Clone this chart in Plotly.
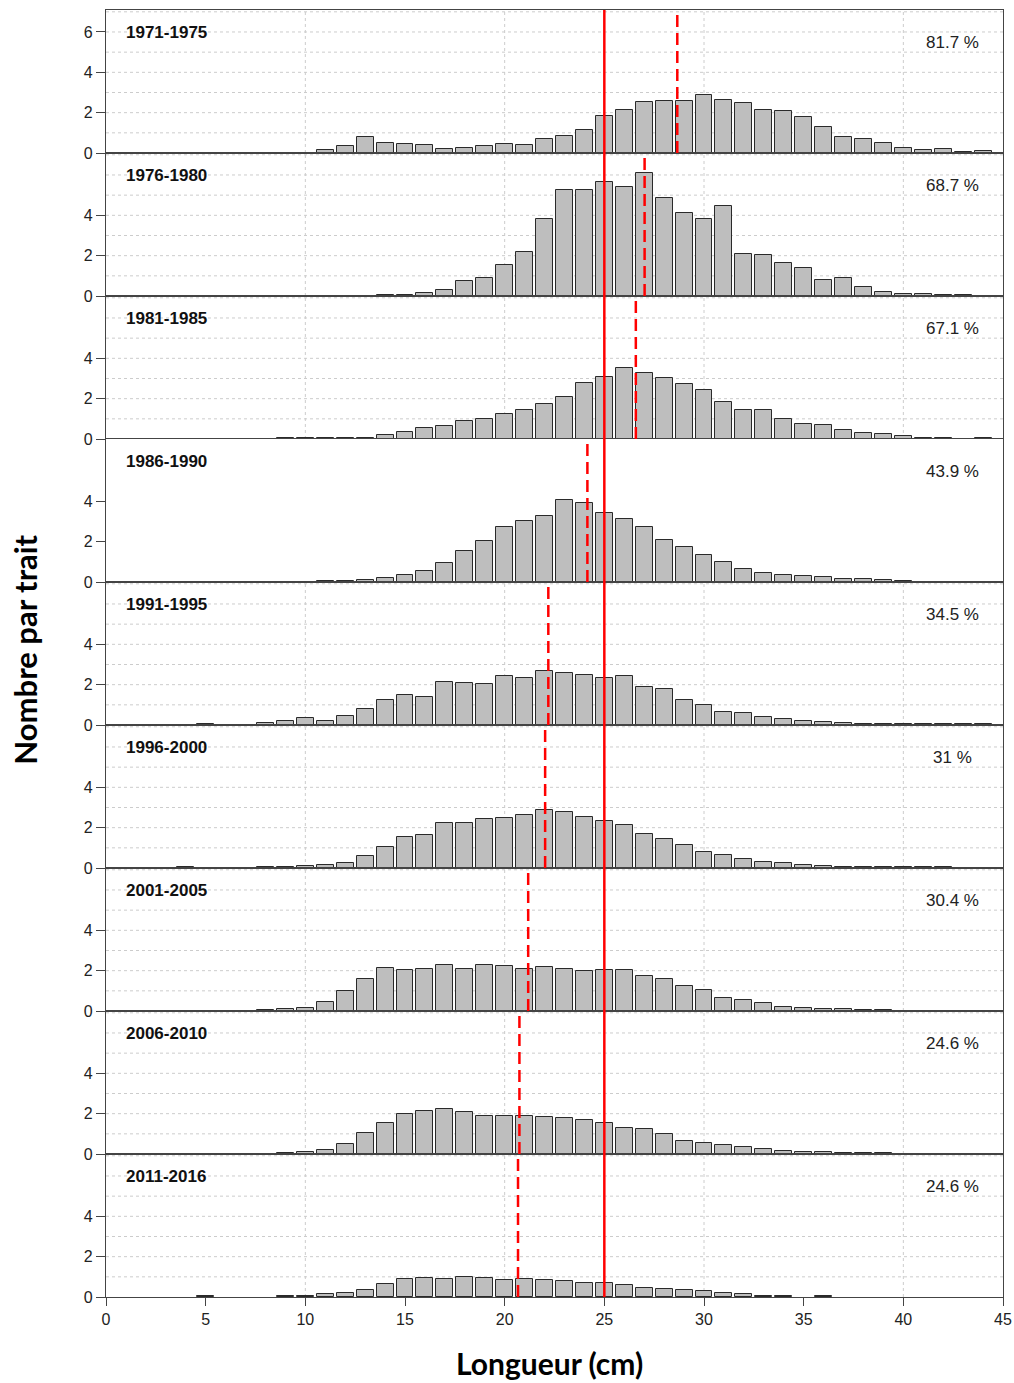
import plotly.graph_objects as go
from plotly.subplots import make_subplots

# ---------------- data ----------------
periods = ["1971-1975", "1976-1980", "1981-1985", "1986-1990", "1991-1995",
           "1996-2000", "2001-2005", "2006-2010", "2011-2016"]

# first length class (cm) of each series, then counts per 1-cm class
start_1971 = 11
counts_1971 = [0.13, 0.36, 0.80, 0.52, 0.43, 0.39, 0.18, 0.25, 0.33, 0.44, 0.41, 0.69, 0.85, 1.15,
               1.84, 2.15, 2.54, 2.57, 2.59, 2.90, 2.62, 2.48, 2.11, 2.07, 1.77, 1.28, 0.79, 0.69,
               0.48, 0.25, 0.16, 0.21, 0.05, 0.08]
start_1976 = 14
counts_1976 = [0.03, 0.07, 0.15, 0.30, 0.76, 0.88, 1.54, 2.18, 3.83, 5.24, 5.27, 5.67, 5.42, 6.10,
               4.88, 4.10, 3.82, 4.46, 2.10, 2.05, 1.65, 1.40, 0.79, 0.89, 0.43, 0.21, 0.12, 0.08,
               0.07, 0.03]
start_1981 = 9
counts_1981 = [0.03, 0.03, 0.03, 0.03, 0.03, 0.18, 0.36, 0.53, 0.63, 0.91, 0.98, 1.22, 1.42, 1.75,
               2.07, 2.78, 3.06, 3.50, 3.27, 3.00, 2.71, 2.43, 1.85, 1.44, 1.45, 0.99, 0.74, 0.71,
               0.43, 0.30, 0.23, 0.13, 0.07, 0.05, None, 0.03]
start_1986 = 11
counts_1986 = [0.03, 0.07, 0.10, 0.20, 0.36, 0.56, 0.93, 1.54, 2.05, 2.71, 3.00, 3.26, 4.07, 3.90,
               3.42, 3.12, 2.73, 2.10, 1.75, 1.36, 1.01, 0.66, 0.46, 0.36, 0.28, 0.23, 0.17, 0.15,
               0.10, 0.05]
start_1991 = 5
counts_1991 = [0.03, None, None, 0.08, 0.20, 0.33, 0.18, 0.46, 0.78, 1.22, 1.50, 1.37, 2.12, 2.08,
               2.03, 2.45, 2.31, 2.66, 2.60, 2.50, 2.33, 2.45, 1.88, 1.77, 1.26, 1.01, 0.66, 0.60,
               0.38, 0.28, 0.21, 0.13, 0.10, 0.07, 0.05, 0.03, 0.03, 0.03, 0.03, 0.03]
start_1996 = 4
counts_1996 = [0.03, None, None, None, 0.03, 0.07, 0.10, 0.15, 0.23, 0.60, 1.06, 1.52, 1.65, 2.23,
               2.23, 2.43, 2.48, 2.61, 2.89, 2.79, 2.53, 2.35, 2.15, 1.70, 1.44, 1.12, 0.81, 0.64,
               0.45, 0.28, 0.26, 0.13, 0.10, 0.07, 0.05, 0.03, 0.03, 0.03, 0.03]
start_2001 = 8
counts_2001 = [0.03, 0.10, 0.17, 0.45, 1.01, 1.57, 2.13, 2.02, 2.10, 2.28, 2.10, 2.28, 2.25, 2.10,
               2.20, 2.08, 2.00, 2.02, 2.02, 1.74, 1.60, 1.26, 1.04, 0.63, 0.55, 0.41, 0.20, 0.17,
               0.12, 0.08, 0.07, 0.05]
start_2006 = 9
counts_2006 = [0.05, 0.10, 0.20, 0.48, 1.02, 1.52, 1.97, 2.13, 2.23, 2.10, 1.87, 1.90, 1.87, 1.82,
               1.80, 1.67, 1.52, 1.29, 1.24, 0.98, 0.64, 0.53, 0.46, 0.36, 0.23, 0.15, 0.12, 0.08,
               0.07, 0.05, 0.03]
start_2011 = 5
counts_2011 = [0.03, None, None, None, 0.03, 0.05, 0.17, 0.21, 0.36, 0.66, 0.88, 0.94, 0.88, 0.98,
               0.94, 0.84, 0.88, 0.84, 0.78, 0.71, 0.68, 0.61, 0.46, 0.41, 0.36, 0.28, 0.20, 0.13,
               0.07, 0.05, None, 0.03]

starts = [start_1971, start_1976, start_1981, start_1986, start_1991,
          start_1996, start_2001, start_2006, start_2011]
counts = [counts_1971, counts_1976, counts_1981, counts_1986, counts_1991,
          counts_1996, counts_2001, counts_2006, counts_2011]

mean_lengths = [28.66, 27.02, 26.58, 24.15, 22.19, 22.03, 21.18, 20.74, 20.67]
percents = ["81.7 %", "68.7 %", "67.1 %", "43.9 %", "34.5 %", "31 %", "30.4 %", "24.6 %", "24.6 %"]
ref_length = 25

x_ticks = [0, 5, 10, 15, 20, 25, 30, 35, 40, 45]
x_grid = [10, 20, 30, 40]
y_ticks_top = [0, 2, 4, 6]
y_ticks = [0, 2, 4]
y_grid = [1, 2, 3, 4, 5, 6, 7]

# ---------------- figure ----------------
n = len(periods)
fig = make_subplots(rows=n, cols=1, shared_xaxes=True, vertical_spacing=0)

FONT = "Liberation Sans, Arial, sans-serif"
TITLE_FONT = "Lato, Open Sans, sans-serif"
FRAME = "#444444"
GRID = "#cccccc"

for i in range(n):
    xs = list(range(starts[i], starts[i] + len(counts[i])))
    fig.add_trace(go.Bar(x=xs, y=counts[i], width=0.85,
                         marker=dict(color="#BEBEBE", line=dict(color="#2a2a2a", width=1)),
                         showlegend=False), row=i + 1, col=1)

for i in range(n):
    r = i + 1
    fig.update_yaxes(row=r, col=1, range=[0, 7.09], automargin=False,
                     tickvals=y_ticks_top if i == 0 else y_ticks,
                     ticks="outside", ticklen=9, tickcolor=FRAME, tickwidth=1,
                     tickfont=dict(family=FONT, size=16, color="#222"),
                     showgrid=False, zeroline=False,
                     showline=True, mirror=True, linecolor=FRAME, linewidth=1.3)
    last = (r == n)
    fig.update_xaxes(row=r, col=1, range=[0, 45], automargin=False,
                     tickvals=x_ticks,
                     ticks="outside" if last else "", ticklen=8, tickcolor=FRAME,
                     showticklabels=last,
                     tickfont=dict(family=FONT, size=16, color="#222"),
                     showgrid=False, zeroline=False,
                     showline=True, mirror=True, linecolor=FRAME, linewidth=1.3)

# dotted grid lines (below the bars)
for i in range(n):
    xr = "x" if i == 0 else f"x{i + 1}"
    yr = "y" if i == 0 else f"y{i + 1}"
    for gx in x_grid:
        fig.add_shape(type="line", xref=xr, yref=f"{yr} domain", x0=gx, x1=gx, y0=0, y1=1,
                      layer="below", line=dict(color=GRID, width=1, dash="dot"))
    for gy in y_grid:
        fig.add_shape(type="line", xref=f"{xr} domain", yref=yr, x0=0, x1=1, y0=gy, y1=gy,
                      layer="below", line=dict(color=GRID, width=1, dash="dot"))

# reference length (solid red line across all panels)
fig.add_shape(type="line", xref="x", yref="paper", x0=ref_length, x1=ref_length, y0=0, y1=1,
              line=dict(color="#FF0000", width=2.5))

for i in range(n):
    xr = "x" if i == 0 else f"x{i + 1}"
    yr = "y" if i == 0 else f"y{i + 1}"
    fig.add_shape(type="line", xref=xr, yref=f"{yr} domain",
                  x0=mean_lengths[i], x1=mean_lengths[i], y0=0, y1=1,
                  line=dict(color="#FF0000", width=2.5, dash="12px,6px"))
    fig.add_annotation(xref=f"{xr} domain", yref=f"{yr} domain", x=0.02, y=0.84,
                       xanchor="left", yanchor="middle", showarrow=False,
                       text=f"<b>{periods[i]}</b>",
                       font=dict(family=FONT, size=17, color="#111"))
    fig.add_annotation(xref=f"{xr} domain", yref=f"{yr} domain", x=0.944, y=0.77,
                       xanchor="center", yanchor="middle", showarrow=False,
                       text=percents[i],
                       font=dict(family=FONT, size=17, color="#222"))

fig.add_annotation(xref="paper", yref="paper", x=0.494, y=-66 / 1287,
                   xanchor="center", yanchor="middle", showarrow=False,
                   text="<b>Longueur (cm)</b>",
                   font=dict(family=TITLE_FONT, size=30, color="#000"))
fig.add_annotation(xref="paper", yref="paper", x=-81 / 897, y=0.503,
                   xanchor="center", yanchor="middle", showarrow=False, textangle=-90,
                   text="<b>Nombre par trait</b>",
                   font=dict(family=TITLE_FONT, size=31, color="#000"))

fig.update_layout(width=1014, height=1383,
                  margin=dict(l=106, r=11, t=10, b=86),
                  paper_bgcolor="white", plot_bgcolor="white",
                  bargap=0, showlegend=False)

fig.write_html("out.html")
